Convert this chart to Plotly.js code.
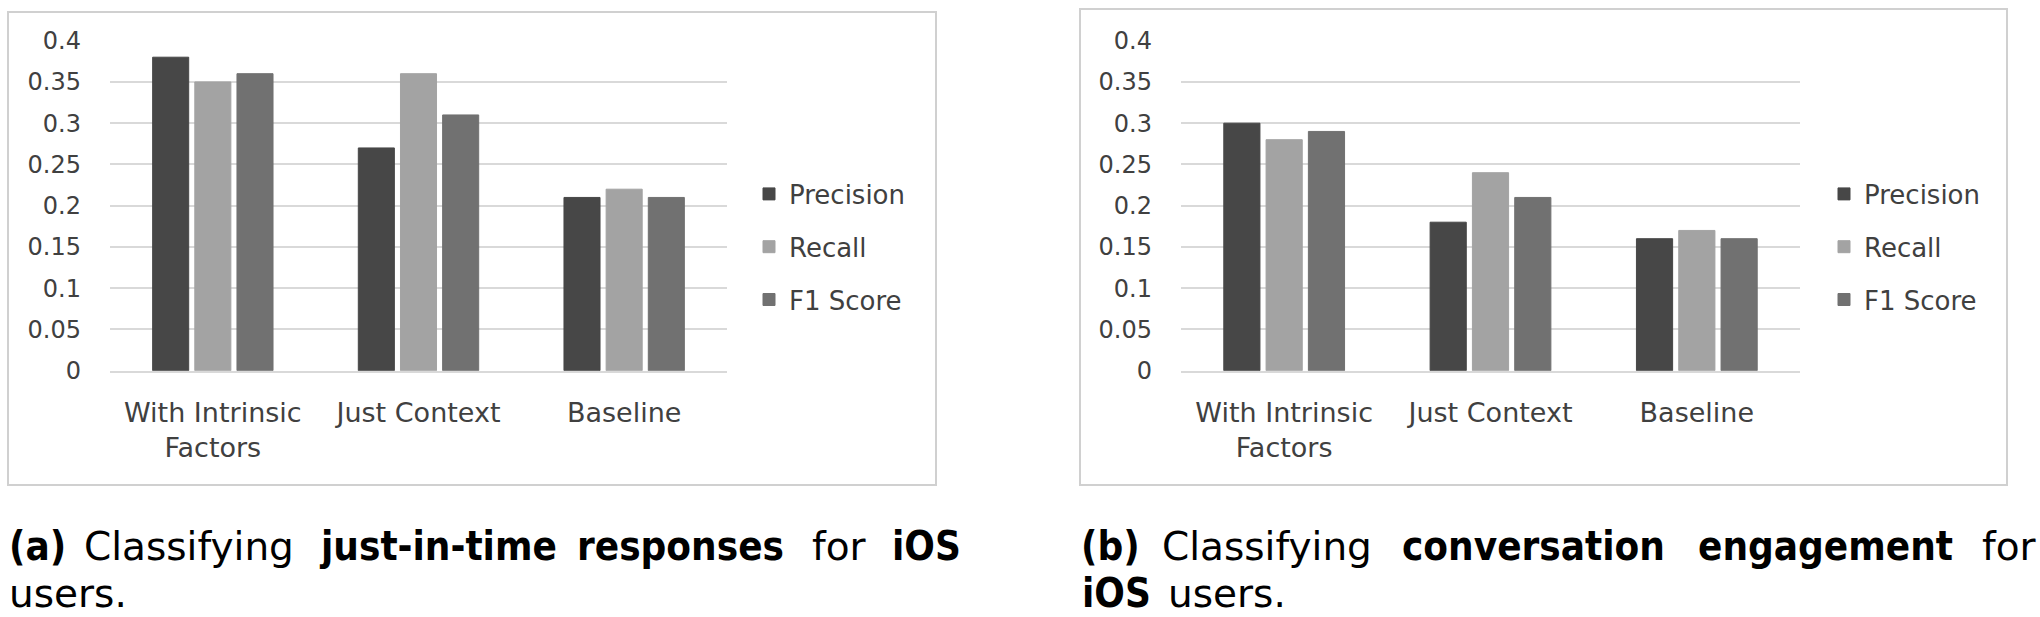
<!DOCTYPE html>
<html>
<head>
<meta charset="utf-8">
<script src="https://cdn.plot.ly/plotly-3.0.1.min.js"></script>
<style>html,body{margin:0;padding:0;background:#fff;}#chart{width:2040px;height:617px;}</style>
</head>
<body>
<div id="chart"></div>
<script>
// ---- data ----
const categories = ['With Intrinsic<br>Factors', 'Just Context', 'Baseline'];
const seriesNames = ['Precision', 'Recall', 'F1 Score'];
const precisionA = [0.38, 0.27, 0.21];
const recallA    = [0.35, 0.36, 0.22];
const f1A        = [0.36, 0.31, 0.21];
const precisionB = [0.30, 0.18, 0.16];
const recallB    = [0.28, 0.24, 0.17];
const f1B        = [0.29, 0.21, 0.16];
const yTickVals  = [0, 0.05, 0.1, 0.15, 0.2, 0.25, 0.3, 0.35, 0.4];
const yTickText  = ['0', '0.05', '0.1', '0.15', '0.2', '0.25', '0.3', '0.35', '0.4'];

// ---- styling ----
const W = 2040, H = 617;
const colors = ['#474747', '#a3a3a3', '#717171'];
const FONT = 'DejaVu Sans, Liberation Sans, sans-serif';
const FONT_COND = 'DejaVu Sans Condensed, DejaVu Sans, sans-serif';
const px = v => v / W;
const py = v => 1 - v / H;

function makeTraces(vals, xa, ya, leg, tag) {
  return vals.map((v, i) => ({
    type: 'bar',
    name: seriesNames[i],
    x: categories,
    y: v,
    xaxis: xa,
    yaxis: ya,
    legend: leg,
    legendgroup: tag + i,
    marker: {color: colors[i], line: {color: colors[i], width: 1}},
    hoverinfo: 'y'
  }));
}

const traces = [
  ...makeTraces([precisionA, recallA, f1A], 'x', 'y', 'legend', 'a'),
  ...makeTraces([precisionB, recallB, f1B], 'x2', 'y2', 'legend2', 'b')
];

const yAxisBase = {
  range: [0, 0.4],
  tickvals: yTickVals,
  ticktext: yTickText,
  showgrid: true,
  gridcolor: '#d9d9d9',
  gridwidth: 2,
  zeroline: false,
  showline: false,
  ticks: '',
  ticklabelstandoff: 28,
  tickfont: {family: FONT, size: 24, color: '#404040'},
  fixedrange: true
};
const xAxisBase = {
  type: 'category',
  showgrid: false,
  zeroline: false,
  showline: true,
  linecolor: '#d9d9d9',
  linewidth: 2,
  ticks: '',
  ticklabelstandoff: 17,
  tickfont: {family: FONT, size: 27, color: '#404040'},
  fixedrange: true
};

const legendBase = {
  font: {family: FONT, size: 26, color: '#404040'},
  xanchor: 'left',
  yanchor: 'middle',
  y: py(247),
  bgcolor: 'rgba(0,0,0,0)',
  tracegroupgap: 16,
  itemclick: false,
  itemdoubleclick: false
};

// caption words (justified lines); bold words use the condensed face
const captionWords = [
  ['(a)', true, 6.5, 546], ['Classifying', false, 81.5, 546], ['just-in-time', true, 317, 546],
  ['responses', true, 575, 546], ['for', false, 810, 546], ['iOS', true, 890, 546],
  ['users.', false, 6.5, 593],
  ['(b)', true, 1079, 546], ['Classifying', false, 1160, 546], ['conversation', true, 1400, 546],
  ['engagement', true, 1696, 546], ['for', false, 1980, 546],
  ['iOS', true, 1080, 593], ['users.', false, 1166, 593]
];
const annotations = captionWords.map(([t, bold, x, y]) => ({
  text: bold ? '<b>' + t + '</b>' : t,
  xref: 'paper', yref: 'paper', x: px(x), y: py(y),
  xanchor: 'left', yanchor: 'middle', showarrow: false,
  font: {family: bold ? FONT_COND : FONT, size: bold ? 40 : 39, color: '#000'}
}));

const layout = {
  width: W, height: H,
  margin: {l: 0, r: 0, t: 0, b: 0},
  paper_bgcolor: '#fff',
  plot_bgcolor: '#fff',
  barmode: 'group',
  bargap: 0.385,
  bargroupgap: 0.145,
  xaxis:  Object.assign({}, xAxisBase, {domain: [px(110), px(727)], anchor: 'y'}),
  yaxis:  Object.assign({}, yAxisBase, {domain: [py(370.7), py(40.7)], anchor: 'x'}),
  xaxis2: Object.assign({}, xAxisBase, {domain: [px(1181), px(1800)], anchor: 'y2'}),
  yaxis2: Object.assign({}, yAxisBase, {domain: [py(370.7), py(40.7)], anchor: 'x2'}),
  legend:  Object.assign({}, legendBase, {x: px(749)}),
  legend2: Object.assign({}, legendBase, {x: px(1824)}),
  shapes: [
    {type: 'rect', xref: 'paper', yref: 'paper', x0: px(8), x1: px(936), y0: py(485), y1: py(12),
     line: {color: '#d0d0d0', width: 2}, layer: 'below'},
    {type: 'rect', xref: 'paper', yref: 'paper', x0: px(1080), x1: px(2007), y0: py(485), y1: py(9),
     line: {color: '#d0d0d0', width: 2}, layer: 'below'}
  ],
  annotations: annotations,
  showlegend: true
};

Plotly.newPlot('chart', traces, layout, {displayModeBar: false, staticPlot: true});
</script>
</body>
</html>
